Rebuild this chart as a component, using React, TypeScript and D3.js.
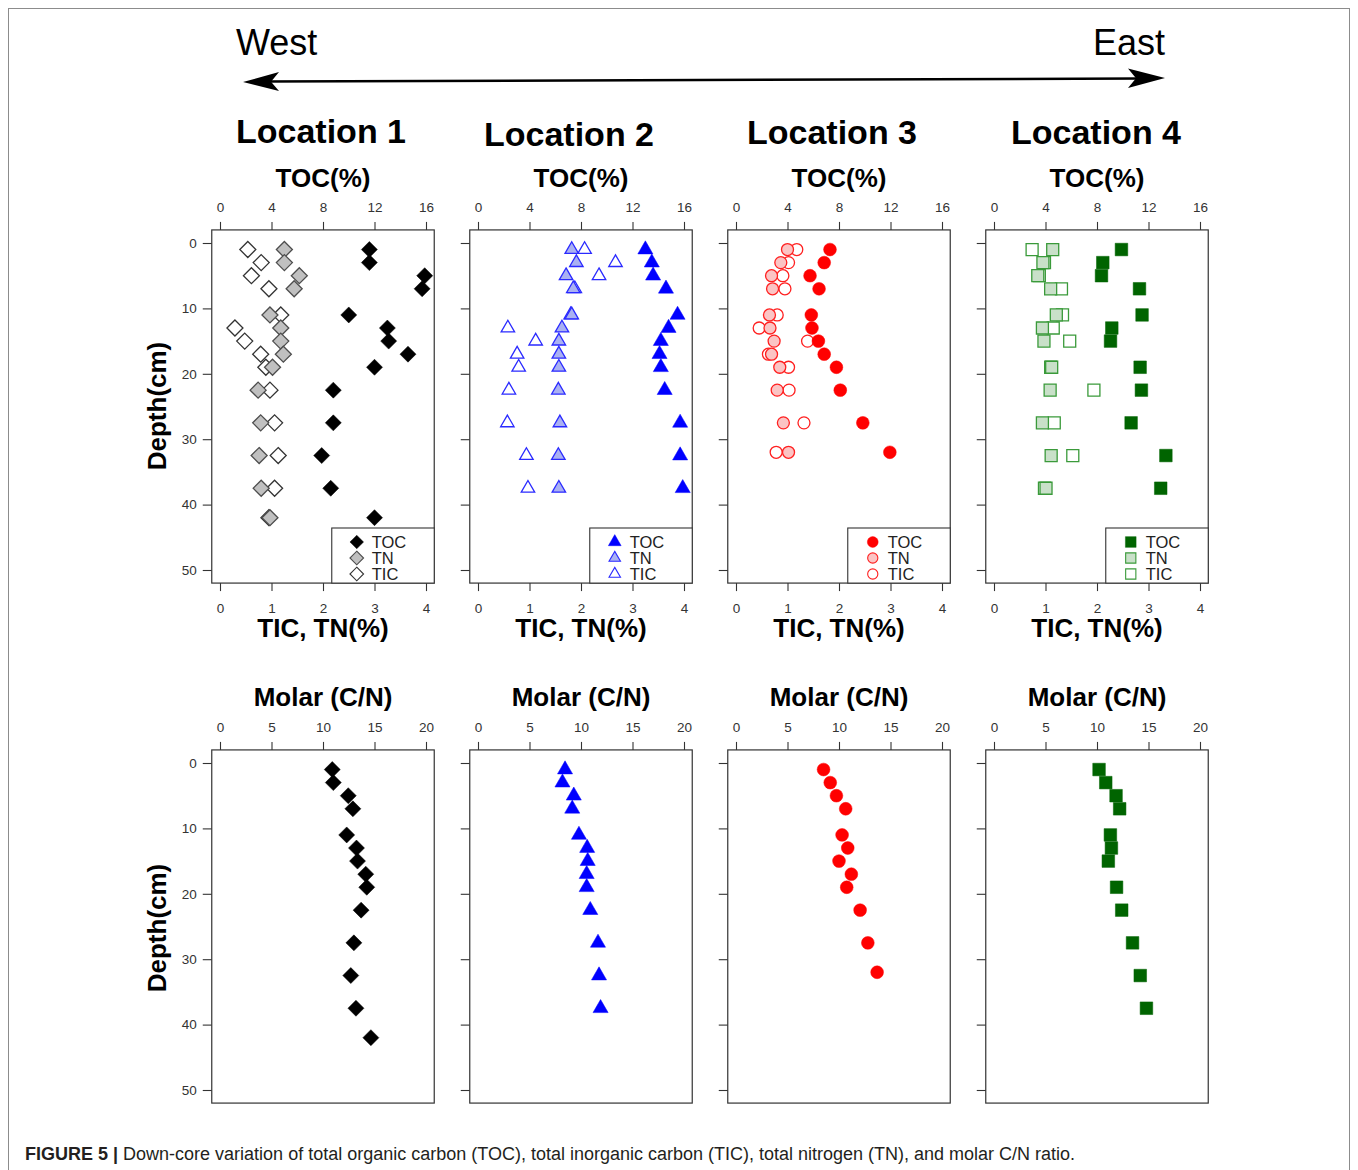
import * as d3 from 'd3';
import { useEffect, useRef } from 'react';

const W = 1358;
const H = 1170;
const FONT = '"Liberation Sans", Arial, Helvetica, sans-serif';

// подписи
const locationNames = ['Location 1', 'Location 2', 'Location 3', 'Location 4'];
const legendLabels = ['TOC', 'TN', 'TIC'];
const tocTicks = [0, 4, 8, 12, 16];
const tnTicks = [0, 1, 2, 3, 4];
const cnTicks = [0, 5, 10, 15, 20];
const depthTicks = [0, 10, 20, 30, 40, 50];

// Location 1
const depth1 = [1, 3, 5, 7, 11, 13, 15, 17, 19, 22.5, 27.5, 32.5, 37.5, 42];
const toc1 = [11.6, 11.6, 15.9, 15.7, 10.0, 13.0, 13.1, 14.6, 12.0, 8.8, 8.8, 7.9, 8.6, 12.0];
const tn1 = [1.25, 1.25, 1.54, 1.44, 0.97, 1.18, 1.18, 1.23, 1.02, 0.74, 0.79, 0.76, 0.8, 0.97];
const tic1 = [0.54, 0.8, 0.61, 0.95, 1.18, 0.29, 0.48, 0.79, 0.89, 0.97, 1.06, 1.13, 1.06, 0.95];
const cn1 = [10.9, 11.0, 12.45, 12.9, 12.3, 13.25, 13.35, 14.15, 14.25, 13.7, 13.0, 12.7, 13.2, 14.65];

// Location 2
const depth2 = [1, 3, 5, 7, 11, 13, 15, 17, 19, 22.5, 27.5, 32.5, 37.5];
const toc2 = [13.0, 13.5, 13.6, 14.6, 15.5, 14.8, 14.2, 14.1, 14.2, 14.5, 15.7, 15.7, 15.9];
const tn2 = [1.82, 1.91, 1.71, 1.85, 1.82, 1.63, 1.57, 1.57, 1.57, 1.56, 1.59, 1.56, 1.57];
const tic2 = [2.07, 2.67, 2.35, 1.88, 1.8, 0.58, 1.12, 0.76, 0.79, 0.6, 0.57, 0.94, 0.97];
const cn2 = [8.45, 8.2, 9.3, 9.15, 9.8, 10.6, 10.65, 10.55, 10.55, 10.9, 11.65, 11.75, 11.9];

// Location 3
const depth3 = [1, 3, 5, 7, 11, 13, 15, 17, 19, 22.5, 27.5, 32];
const toc3 = [7.3, 6.85, 5.75, 6.45, 5.85, 5.9, 6.4, 6.85, 7.8, 8.1, 9.85, 11.95];
const tn3 = [1.0, 0.87, 0.69, 0.71, 0.65, 0.66, 0.74, 0.69, 0.85, 0.8, 0.92, 1.02];
const tic3 = [1.18, 1.02, 0.91, 0.95, 0.8, 0.45, 1.39, 0.63, 1.02, 1.03, 1.32, 0.78];
const cn3 = [8.5, 9.15, 9.75, 10.65, 10.3, 10.85, 10.0, 11.2, 10.75, 12.05, 12.8, 13.7];

// Location 4
const depth4 = [1, 3, 5, 7, 11, 13, 15, 19, 22.5, 27.5, 32.5, 37.5];
const toc4 = [9.9, 8.45, 8.35, 11.3, 11.5, 9.15, 9.05, 11.35, 11.45, 10.65, 13.35, 12.95];
const tn4 = [1.14, 0.95, 0.85, 1.1, 1.21, 0.94, 0.97, 1.12, 1.09, 0.94, 1.11, 1.01];
const tic4 = [0.74, 0.98, 0.88, 1.31, 1.33, 1.15, 1.47, 1.1, 1.94, 1.17, 1.53, 0.98];
const cn4 = [10.2, 10.85, 11.85, 12.2, 11.3, 11.4, 11.1, 11.9, 12.4, 13.45, 14.2, 14.8];

const panels = [
  { depth: depth1, toc: toc1, tn: tn1, tic: tic1, cn: cn1 },
  { depth: depth2, toc: toc2, tn: tn2, tic: tic2, cn: cn2 },
  { depth: depth3, toc: toc3, tn: tn3, tic: tic3, cn: cn3 },
  { depth: depth4, toc: toc4, tn: tn4, tic: tic4, cn: cn4 },
];

// оформление каждой колонки
const styles = [
  { shape: 'diamond', main: '#000000', tnFill: '#c0c0c0', tnStroke: '#4d4d4d', ticStroke: '#333333' },
  { shape: 'triangle', main: '#0000ff', tnFill: '#aab1f2', tnStroke: '#2a2aff', ticStroke: '#2a2aff' },
  { shape: 'circle', main: '#ff0000', tnFill: '#fbc4c4', tnStroke: '#ff2020', ticStroke: '#ff2020' },
  { shape: 'square', main: '#006400', tnFill: '#c9e0c9', tnStroke: '#3a9a3a', ticStroke: '#3a9a3a' },
];
const titleX = [321, 569, 832, 1096];
const titleY = [143, 146, 144, 144];

function markerPath(shape: string, x: number, y: number, big: boolean) {
  const p = d3.path();
  if (shape === 'diamond') {
    const s = 8;
    p.moveTo(x, y - s); p.lineTo(x + s, y); p.lineTo(x, y + s); p.lineTo(x - s, y); p.closePath();
  } else if (shape === 'triangle') {
    const R = big ? 5.6 : 5.0;
    p.moveTo(x, y - 1.555 * R); p.lineTo(x + 1.347 * R, y + 0.778 * R); p.lineTo(x - 1.347 * R, y + 0.778 * R); p.closePath();
  } else if (shape === 'square') {
    const s = big ? 6.3 : 6;
    p.rect(x - s, y - s, 2 * s, 2 * s);
  } else {
    const r = big ? 6.4 : 6;
    p.moveTo(x + r, y); p.arc(x, y, r, 0, Math.PI * 2); p.closePath();
  }
  return p.toString();
}

function styleAxis(g: any) {
  g.attr('font-family', FONT).attr('font-size', 13.5);
  g.select('.domain').remove();
  g.selectAll('line').attr('stroke', '#333').attr('stroke-width', 1.1);
  g.selectAll('text').attr('fill', '#333');
}

const App = () => {
  const ref = useRef<SVGSVGElement>(null);

  useEffect(() => {
    if (!ref.current) return;
    const svg = d3.select(ref.current);
    svg.selectAll('*').remove();

    svg.append('rect').attr('width', W).attr('height', H).attr('fill', '#fff');
    svg.append('rect').attr('x', 8.5).attr('y', 8.5).attr('width', 1341).attr('height', 1220)
      .attr('fill', 'none').attr('stroke', '#8c8c8c').attr('stroke-width', 1);

    // стрелка Запад - Восток
    svg.append('text').attr('x', 236).attr('y', 55).attr('font-family', FONT).attr('font-size', 36).text('West');
    svg.append('text').attr('x', 1165).attr('y', 55).attr('text-anchor', 'end').attr('font-family', FONT).attr('font-size', 36).text('East');
    svg.append('line').attr('x1', 265).attr('y1', 81.5).attr('x2', 1140).attr('y2', 78.5)
      .attr('stroke', '#000').attr('stroke-width', 2.5);
    svg.append('path').attr('d', 'M243,82 L279,72 L271,81.8 L279,91 Z').attr('fill', '#000');
    svg.append('path').attr('d', 'M1165,78 L1128,68.5 L1136,78.2 L1128,88 Z').attr('fill', '#000');

    panels.forEach((d, i) => {
      const st = styles[i];
      const x0 = 220 + i * 258;
      const xToc = d3.scaleLinear().domain([0, 16]).range([x0, x0 + 206]);
      const xTn = d3.scaleLinear().domain([0, 4]).range([x0, x0 + 206]);
      const xCn = d3.scaleLinear().domain([0, 20]).range([x0, x0 + 206]);
      const yTop = d3.scaleLinear().domain([0, 50]).range([243, 570]);
      const yBot = d3.scaleLinear().domain([0, 50]).range([763, 1090]);
      const bl = xToc(-0.64);
      const br = xToc(16.64);
      const cx = x0 + 103;

      svg.append('text').attr('x', titleX[i]).attr('y', titleY[i]).attr('text-anchor', 'middle')
        .attr('font-family', FONT).attr('font-weight', 'bold').attr('font-size', 34).text(locationNames[i]);

      // ---------- верхний ряд ----------
      const t = svg.append('g');
      t.append('text').attr('x', cx).attr('y', 187).attr('text-anchor', 'middle')
        .attr('font-family', FONT).attr('font-weight', 'bold').attr('font-size', 26).text('TOC(%)');
      t.append('text').attr('x', cx).attr('y', 637).attr('text-anchor', 'middle')
        .attr('font-family', FONT).attr('font-weight', 'bold').attr('font-size', 26).text('TIC, TN(%)');

      t.append('g').attr('transform', `translate(0,${yTop(-2)})`)
        .call(d3.axisTop(xToc).tickValues(tocTicks).tickSize(8).tickPadding(10).tickFormat(d3.format('d')))
        .call(styleAxis);
      t.append('g').attr('transform', `translate(0,${yTop(52)})`)
        .call(d3.axisBottom(xTn).tickValues(tnTicks).tickSize(8).tickPadding(12).tickFormat(d3.format('d')))
        .call(styleAxis);
      t.append('g').attr('transform', `translate(${bl},0)`)
        .call(d3.axisLeft(yTop).tickValues(depthTicks).tickSize(9).tickPadding(6)
          .tickFormat((v: any) => (i === 0 ? String(v) : '')))
        .call(styleAxis);

      t.append('rect').attr('x', bl).attr('y', yTop(-2)).attr('width', br - bl).attr('height', yTop(52) - yTop(-2))
        .attr('fill', 'none').attr('stroke', '#333').attr('stroke-width', 1.2);

      // TIC
      t.selectAll('.tic').data(d.depth).enter().append('path')
        .attr('d', (v, k) => markerPath(st.shape, xTn(d.tic[k]), yTop(v), false))
        .attr('fill', '#fff').attr('stroke', st.ticStroke).attr('stroke-width', 1.3);
      // TN
      t.selectAll('.tn').data(d.depth).enter().append('path')
        .attr('d', (v, k) => markerPath(st.shape, xTn(d.tn[k]), yTop(v), false))
        .attr('fill', st.tnFill).attr('stroke', st.tnStroke).attr('stroke-width', 1.3);
      // TOC
      t.selectAll('.toc').data(d.depth).enter().append('path')
        .attr('d', (v, k) => markerPath(st.shape, xToc(d.toc[k]), yTop(v), true))
        .attr('fill', st.main).attr('stroke', st.main).attr('stroke-width', 0.5);

      // легенда
      const lx = bl + 120;
      const ly = 528;
      t.append('rect').attr('x', lx).attr('y', ly).attr('width', br - lx).attr('height', yTop(52) - ly)
        .attr('fill', '#fff').attr('stroke', '#333').attr('stroke-width', 1.1);
      legendLabels.forEach((lab, k) => {
        const yy = ly + 14 + k * 16;
        const fills = [st.main, st.tnFill, '#fff'];
        const strokes = [st.main, st.tnStroke, st.ticStroke];
        t.append('path').attr('d', markerPath(st.shape, lx + 25, yy, k === 0))
          .attr('transform', `translate(${lx + 25},${yy}) scale(0.85) translate(${-(lx + 25)},${-yy})`)
          .attr('fill', fills[k]).attr('stroke', strokes[k]).attr('stroke-width', k === 0 ? 0.5 : 1.3);
        t.append('text').attr('x', lx + 40).attr('y', yy + 6).attr('font-family', FONT).attr('font-size', 16.5)
          .attr('fill', '#222').text(lab);
      });

      // ---------- нижний ряд ----------
      const b = svg.append('g');
      b.append('text').attr('x', cx).attr('y', 706).attr('text-anchor', 'middle')
        .attr('font-family', FONT).attr('font-weight', 'bold').attr('font-size', 26).text('Molar (C/N)');
      b.append('g').attr('transform', `translate(0,${yBot(-2)})`)
        .call(d3.axisTop(xCn).tickValues(cnTicks).tickSize(8).tickPadding(10).tickFormat(d3.format('d')))
        .call(styleAxis);
      b.append('g').attr('transform', `translate(${bl},0)`)
        .call(d3.axisLeft(yBot).tickValues(depthTicks).tickSize(9).tickPadding(6)
          .tickFormat((v: any) => (i === 0 ? String(v) : '')))
        .call(styleAxis);
      b.append('rect').attr('x', bl).attr('y', yBot(-2)).attr('width', br - bl).attr('height', yBot(52) - yBot(-2))
        .attr('fill', 'none').attr('stroke', '#333').attr('stroke-width', 1.2);
      b.selectAll('.cn').data(d.depth).enter().append('path')
        .attr('d', (v, k) => markerPath(st.shape, xCn(d.cn[k]), yBot(v), true))
        .attr('fill', st.main).attr('stroke', st.main).attr('stroke-width', 0.5);

      if (i === 0) {
        [406, 928].forEach((yc) => {
          svg.append('text').attr('transform', `translate(166,${yc}) rotate(-90)`).attr('text-anchor', 'middle')
            .attr('font-family', FONT).attr('font-weight', 'bold').attr('font-size', 26).text('Depth(cm)');
        });
      }
    });

    // подпись к рисунку
    const cap = svg.append('text').attr('x', 25).attr('y', 1160).attr('font-family', FONT)
      .attr('font-size', 18).attr('fill', '#231f20');
    cap.append('tspan').attr('font-weight', 'bold').text('FIGURE 5 | ');
    cap.append('tspan')
      .text('Down-core variation of total organic carbon (TOC), total inorganic carbon (TIC), total nitrogen (TN), and molar C/N ratio.');
  }, []);

  return (
    <svg ref={ref} width={W} height={H} style={{ position: 'absolute', left: 0, top: 0, display: 'block' }} />
  );
};

export default App;
